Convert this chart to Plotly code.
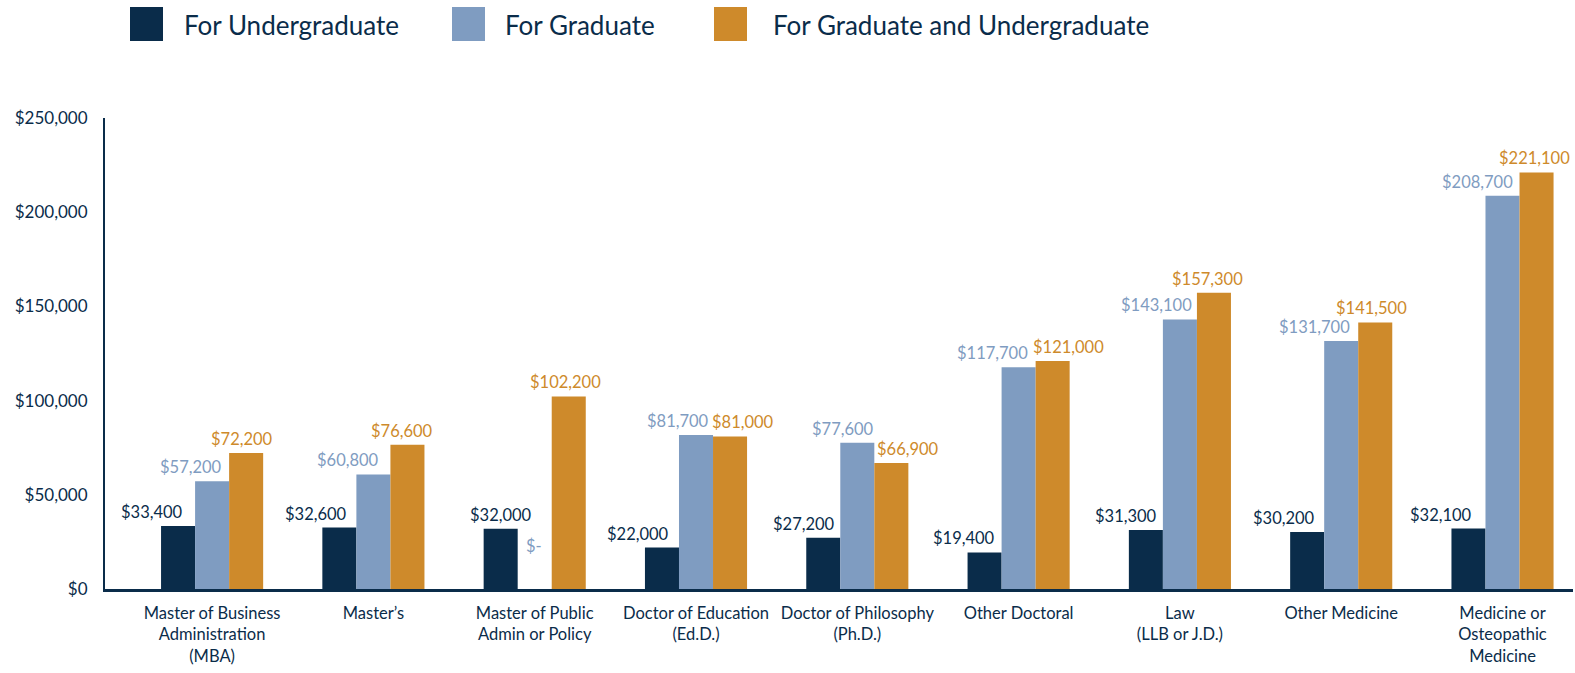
import plotly.graph_objects as go

categories = [
    "Master of Business<br>Administration<br>(MBA)",
    "Master’s",
    "Master of Public<br>Admin or Policy",
    "Doctor of Education<br>(Ed.D.)",
    "Doctor of Philosophy<br>(Ph.D.)",
    "Other Doctoral",
    "Law<br>(LLB or J.D.)",
    "Other Medicine",
    "Medicine or<br>Osteopathic<br>Medicine",
]
undergrad = [33400, 32600, 32000, 22000, 27200, 19400, 31300, 30200, 32100]
graduate = [57200, 60800, 0, 81700, 77600, 117700, 143100, 131700, 208700]
both = [72200, 76600, 102200, 81000, 66900, 121000, 157300, 141500, 221100]
series_names = ["For Undergraduate", "For Graduate", "For Graduate and Undergraduate"]
y_ticks = [0, 50000, 100000, 150000, 200000, 250000]

# label nudges (pixels), styling only
label_xshift = [
    [-26, -23, 0, -24, -19, -21, -20, -23, -27],
    [-21, -25, -1, -18, -14, -26, -23, -27, -25],
    [-4, -5, -3, 13, 17, 16, -6, -4, -2],
]

NAVY = "#0a2c4a"
BLUE = "#7f9cc1"
ORANGE = "#ce8a2b"
colors = [NAVY, BLUE, ORANGE]
FONT = "Lato"

W, H = 1575, 673
L, R, T, B = 105, 2, 118, 84
pw, ph = W - L - R, H - T - B

def px(x):
    return (x - L) / pw

def py(y):
    return (H - B - y) / ph

fig = go.Figure()
xs = list(range(len(categories)))
all_series = [undergrad, graduate, both]
for name, vals, c in zip(series_names, all_series, colors):
    fig.add_trace(go.Bar(x=xs, y=vals, name=name, marker=dict(color=c, line=dict(width=0)),
                         showlegend=False))

bargap = 0.367
bw = (1 - bargap) / 3
annotations = []
for j, vals in enumerate(all_series):
    for i, v in enumerate(vals):
        txt = "$-" if v == 0 else "${:,}".format(v)
        annotations.append(dict(
            x=i + (j - 1) * bw, y=v, xref="x", yref="y", text=txt, showarrow=False,
            xanchor="center", yanchor="bottom", xshift=label_xshift[j][i],
            yshift=31 if v == 0 else 2,
            font=dict(family=FONT, size=16.5, color=colors[j]),
        ))

# legend (custom large swatches)
leg_sq = [(130, 163), (452, 485), (714, 747)]
leg_tx = [182, 503, 771]
shapes = []
for (x0, x1), tx, name, c in zip(leg_sq, leg_tx, series_names, colors):
    shapes.append(dict(type="rect", xref="paper", yref="paper", x0=px(x0), x1=px(x1),
                       y0=py(41), y1=py(7), fillcolor=c, line=dict(width=0)))
    annotations.append(dict(x=px(tx), y=py(25), xref="paper", yref="paper", text=name,
                            showarrow=False, xanchor="left", yanchor="middle",
                            font=dict(family=FONT, size=26, color=NAVY)))

fig.update_layout(
    width=W, height=H,
    margin=dict(l=L, r=R, t=T, b=B, pad=0),
    paper_bgcolor="white", plot_bgcolor="white",
    barmode="group", bargap=bargap, bargroupgap=0,
    font=dict(family=FONT, color=NAVY),
    annotations=annotations, shapes=shapes,
    xaxis=dict(
        tickmode="array", tickvals=xs, ticktext=categories,
        range=[-0.664, 8.437], showgrid=False, zeroline=False,
        showline=True, linecolor=NAVY, linewidth=3, ticks="", ticklabelstandoff=7,
        tickfont=dict(family=FONT, size=16.5, color=NAVY), automargin=False,
    ),
    yaxis=dict(
        range=[0, 250000], tickvals=y_ticks,
        ticktext=["${:,}".format(t) for t in y_ticks],
        showgrid=False, zeroline=False, showline=True, linecolor=NAVY, linewidth=2,
        ticks="", ticklabelstandoff=12, automargin=False,
        tickfont=dict(family=FONT, size=17, color=NAVY),
    ),
)

fig.write_html("out.html", config={"displayModeBar": False},
               post_script="document.body.style.margin='0';document.body.style.overflow='hidden';")
